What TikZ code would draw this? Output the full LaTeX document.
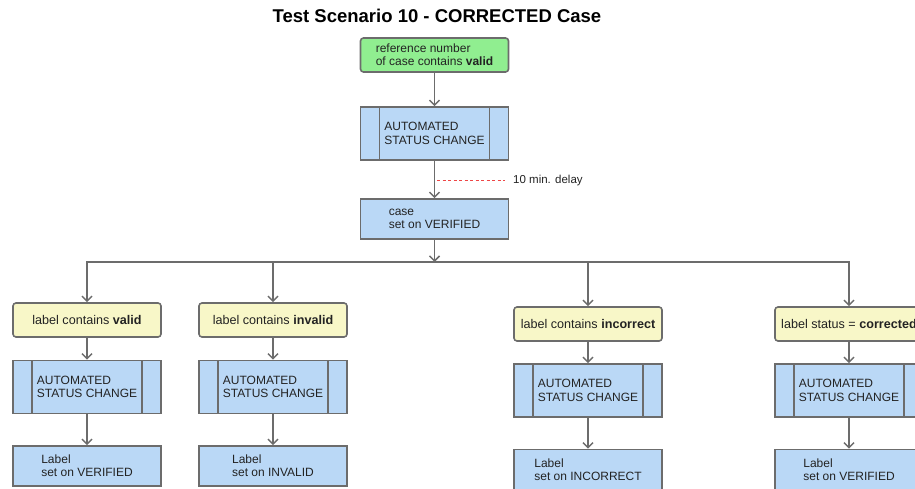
\documentclass[tikz,border=0pt]{standalone}
\usepackage{fontspec}
\setmainfont{Liberation Sans}
\usetikzlibrary{arrows.meta}

\definecolor{startgreen}{RGB}{144,238,144}
\definecolor{stepblue}{RGB}{186,216,246}
\definecolor{condyellow}{RGB}{248,247,200}
\definecolor{boxgray}{RGB}{108,108,108}
\definecolor{textgray}{RGB}{35,35,35}
\definecolor{delayred}{RGB}{238,70,70}

\tikzset{
  box/.style={draw=boxgray, line width=1.6pt, minimum width=148pt, inner sep=0pt,
    align=left, text=textgray, font=\fontsize{12}{13.4}\selectfont},
  startbox/.style={box, fill=startgreen, rounded corners=3pt, minimum height=34pt},
  autobox/.style={box, fill=stepblue, minimum height=53pt,
    path picture={\draw[boxgray, line width=1.6pt]
      ([xshift=19pt]path picture bounding box.north west) -- ([xshift=19pt]path picture bounding box.south west)
      ([xshift=-19pt]path picture bounding box.north east) -- ([xshift=-19pt]path picture bounding box.south east);}},
  setbox/.style={box, fill=stepblue, minimum height=40pt},
  condbox/.style={box, fill=condyellow, rounded corners=3pt, minimum height=34pt,
    font=\fontsize{12.6}{14}\selectfont},
  flow/.style={draw=boxgray, line width=1.5pt, -{Straight Barb[length=5pt,width=10pt]}},
  delayline/.style={draw=delayred, line width=1pt, dash pattern=on 3pt off 2.5pt},
}

\begin{document}
\begin{tikzpicture}[x=1pt, y=-1pt]

\def\xm{434.5}; % main column
\def\yfork{262}; % branch bar

\def\xa{87};
\def\xb{273};
\def\xc{588};
\def\xd{849};

\def\ycl{320}; % left pair
\def\yal{387};
\def\ysl{466};
\def\ycr{324}; % right pair
\def\yar{390.5};
\def\ysr{469.5};

\useasboundingbox (0,0) rectangle (915,489);
\clip (0,0) rectangle (915,489);

\node[anchor=base, font=\bfseries\fontsize{18.5}{20}\selectfont] (title) at (437,23) {Test Scenario 10 - CORRECTED Case};

\node[startbox] (start) at (\xm,55) {reference number\\of case contains \textbf{valid}};
\node[autobox] (auto) at (\xm,133.5) {AUTOMATED\\STATUS CHANGE};
\node[setbox] (case) at (\xm,219) {case\\set on VERIFIED};

\coordinate (fork) at (\xm,\yfork);
\coordinate (dl) at (\xm+2.5,181);
\node[anchor=west, inner sep=0pt, text=textgray, font=\fontsize{11.5}{13}\selectfont] (delay) at (513,181) {10 min. delay};

\draw[flow] (start) -- (auto);
\draw[flow] (auto) -- (case);
\draw[delayline, shorten >=8pt] (dl) -- (delay.west);
\draw[flow] (case) -- (fork);

% valid
\node[condbox] (cond1) at (\xa,\ycl) {label contains \textbf{valid}};
\node[autobox] (auto1) at (\xa,\yal) {AUTOMATED\\STATUS CHANGE};
\node[setbox] (set1) at (\xa,\ysl) {Label\\set on VERIFIED};

% invalid
\node[condbox] (cond2) at (\xb,\ycl) {label contains \textbf{invalid}};
\node[autobox] (auto2) at (\xb,\yal) {AUTOMATED\\STATUS CHANGE};
\node[setbox] (set2) at (\xb,\ysl) {Label\\set on INVALID};

% incorrect
\node[condbox] (cond3) at (\xc,\ycr) {label contains \textbf{incorrect}};
\node[autobox] (auto3) at (\xc,\yar) {AUTOMATED\\STATUS CHANGE};
\node[setbox] (set3) at (\xc,\ysr) {Label\\set on INCORRECT};

% corrected
\node[condbox] (cond4) at (\xd,\ycr) {label status = \textbf{corrected}};
\node[autobox] (auto4) at (\xd,\yar) {AUTOMATED\\STATUS CHANGE};
\node[setbox] (set4) at (\xd,\ysr) {Label\\set on VERIFIED};

\draw[flow] (fork) -| (cond1);
\draw[flow] (fork) -| (cond2);
\draw[flow] (fork) -| (cond3);
\draw[flow] (fork) -| (cond4);

\draw[flow] (cond1) -- (auto1);
\draw[flow] (auto1) -- (set1);
\draw[flow] (cond2) -- (auto2);
\draw[flow] (auto2) -- (set2);
\draw[flow] (cond3) -- (auto3);
\draw[flow] (auto3) -- (set3);
\draw[flow] (cond4) -- (auto4);
\draw[flow] (auto4) -- (set4);

\end{tikzpicture}
\end{document}
